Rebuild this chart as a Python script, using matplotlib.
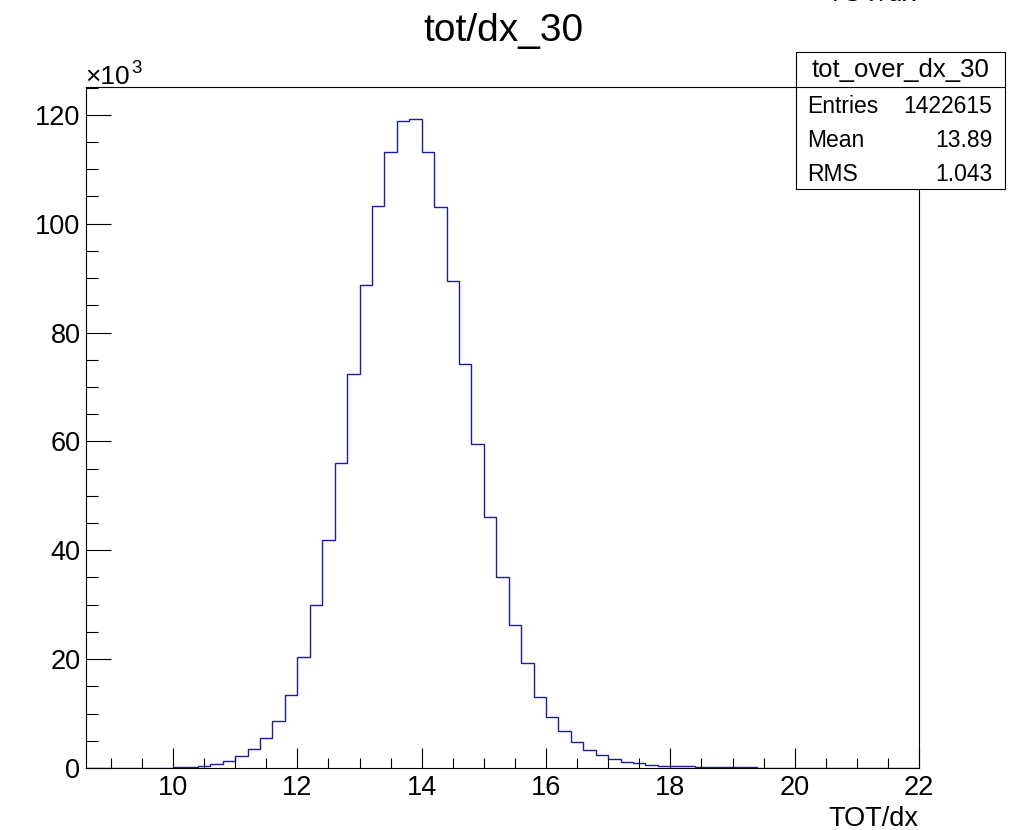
import numpy as np
import matplotlib
matplotlib.use("Agg")
import matplotlib.pyplot as plt
from matplotlib.patches import Rectangle
from matplotlib.ticker import MultipleLocator

plt.rcParams["font.family"] = ["Liberation Sans", "DejaVu Sans"]

# histogram tot_over_dx_30: 67 bins of width 0.2 from 8.6 to 22.0, counts in thousands
bin_low = 8.6
bin_high = 22.0
counts_k = [
    0.0, 0.0, 0.01, 0.01, 0.02, 0.03, 0.06,                        # 8.6 - 10.0
    0.12, 0.25, 0.42, 0.68, 1.2, 2.2, 3.5, 5.6, 8.7, 13.5,          # 10 - 12
    20.4, 29.9, 41.9, 56.1, 72.3, 88.8, 103.2, 113.2, 118.8, 119.2,  # 12 - 14
    113.2, 103.1, 89.4, 74.3, 59.6, 46.2, 35.0, 26.3, 19.2, 13.1,    # 14 - 16
    9.4, 6.8, 4.8, 3.3, 2.4, 1.6, 1.16, 0.86, 0.6, 0.42,            # 16 - 18
    0.42, 0.3, 0.26, 0.22, 0.19, 0.16, 0.13, 0.02, 0.01, 0.01,      # 18 - 20
    0.01, 0.01, 0.0, 0.0, 0.0, 0.0, 0.0, 0.0, 0.0, 0.0,             # 20 - 22
]

title = "tot/dx_30"
x_label = "TOT/dx"
stats_name = "tot_over_dx_30"
stats_rows = [("Entries", "1422615"), ("Mean", "13.89"), ("RMS", "1.043")]

W, H = 1011, 830
fig = plt.figure(figsize=(W / 100, H / 100), dpi=100)


def fx(px):
    return px / W


def fy(py):
    return 1 - py / H


# axes frame in pixels: left 86, right 919, top 87, bottom 768
ax = fig.add_axes([fx(86), fy(768), fx(919) - fx(86), fy(87) - fy(768)])

edges = np.linspace(bin_low, bin_high, len(counts_k) + 1)
ax.stairs(counts_k, edges, color="#1a1aa8", linewidth=1.0)

ax.set_xlim(bin_low, bin_high)
ax.set_ylim(0, 125.1)

ax.xaxis.set_major_locator(MultipleLocator(2))
ax.xaxis.set_minor_locator(MultipleLocator(0.5))
ax.yaxis.set_major_locator(MultipleLocator(20))
ax.yaxis.set_minor_locator(MultipleLocator(5))

ax.tick_params(axis="x", which="major", direction="in", length=14.4, width=0.8,
               labelsize=19.5, pad=5)
ax.tick_params(axis="x", which="minor", direction="in", length=7.2, width=0.8)
ax.tick_params(axis="y", which="major", direction="in", length=18, width=0.8,
               labelsize=19.5, pad=4)
ax.tick_params(axis="y", which="minor", direction="in", length=8.6, width=0.8)
for s in ax.spines.values():
    s.set_linewidth(0.8)

# title and axis texts
fig.text(fx(503), fy(40.7), title, ha="center", va="baseline", fontsize=28)
fig.text(fx(918), fy(826), x_label, ha="right", va="baseline", fontsize=19.5)
fig.text(fx(85), fy(83.5), "\u00d710", ha="left", va="baseline", fontsize=19)
fig.text(fx(131.5), fy(73), "3", ha="left", va="baseline", fontsize=13.5)
# leftover label cut by the top edge (only its lower edge shows, as in the original)
fig.text(fx(826), fy(0.8), x_label, ha="left", va="baseline", fontsize=19.5)

# stats box
bl, br, bt, bb = 795.7, 1005, 52.3, 189.3
fig.patches.append(Rectangle((fx(bl), fy(bb)), fx(br) - fx(bl), fy(bt) - fy(bb),
                             transform=fig.transFigure, facecolor="white",
                             edgecolor="black", linewidth=0.8, zorder=5))
fig.add_artist(plt.Line2D([fx(bl), fx(br)], [fy(87.3), fy(87.3)],
                          transform=fig.transFigure, color="black",
                          linewidth=0.8, zorder=6))
fig.text(fx((bl + br) / 2), fy(77.3), stats_name, ha="center", va="baseline",
         fontsize=18.5, zorder=7)
for i, (name, val) in enumerate(stats_rows):
    yb = 112.7 + 34 * i
    fig.text(fx(806.7), fy(yb), name, ha="left", va="baseline", fontsize=16.5, zorder=7)
    fig.text(fx(992.3), fy(yb), val, ha="right", va="baseline", fontsize=16.5, zorder=7)

fig.savefig("out.png", dpi=100)
